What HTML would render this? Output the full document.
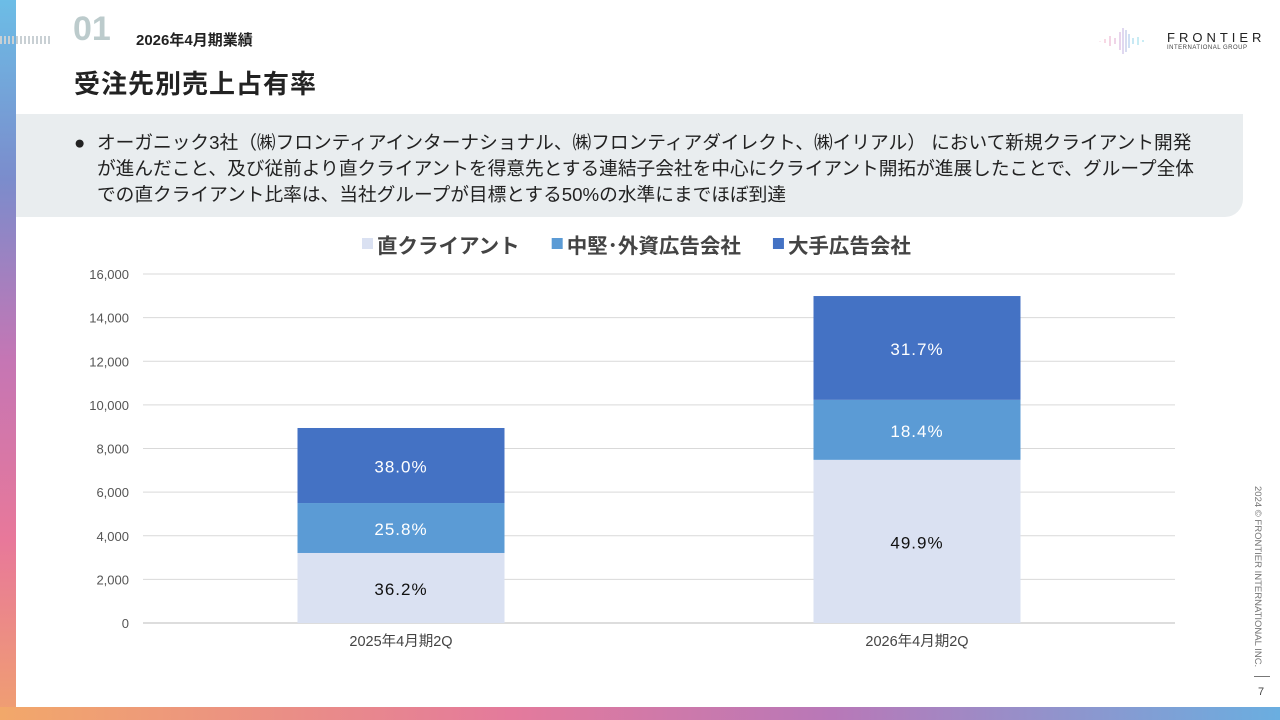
<!DOCTYPE html>
<html><head><meta charset="utf-8">
<style>
body{margin:0;width:1280px;height:720px;overflow:hidden;font-family:"Liberation Sans","Noto Sans CJK JP",sans-serif;background:#fff;position:relative}
.abs{position:absolute}
</style></head><body>
<div class="abs" style="left:0;top:0;width:16px;height:720px;background:linear-gradient(180deg,#6cbde6 0%,#7b8ccc 25%,#c576b4 50%,#e8789a 75%,#f0a070 100%)"></div>
<div class="abs" style="left:0;top:707px;width:1280px;height:13px;background:linear-gradient(90deg,#f2a86a 0%,#e47a9c 40%,#b878b8 65%,#6aaee0 100%)"></div>
<div class="abs" style="left:16px;top:0;width:1264px;height:707px;background:#fff;border-bottom-left-radius:22px"></div>
<div class="abs" style="left:0;top:36px;width:52px;height:8px;background:repeating-linear-gradient(90deg,#c9d0d4 0 2px,transparent 2px 4px)"></div>
<div class="abs" style="left:73px;top:10px;font-size:34px;font-weight:bold;color:#bccbcc">01</div>
<div class="abs" style="left:136px;top:29px;font-size:15px;font-weight:bold;color:#222">2026年4月期業績</div>
<div class="abs" style="left:74px;top:64px;font-size:26px;font-weight:bold;color:#222;letter-spacing:1px">受注先別売上占有率</div>
<div class="abs" style="left:1095px;top:26px;width:160px;height:30px">
<svg width="60" height="30" class="abs" style="left:0;top:0"><g stroke-width="1">
<line x1="5" y1="15" x2="5" y2="15.5" stroke="#f0b0c8"/><line x1="10" y1="13" x2="10" y2="17" stroke="#f0b0c8"/><line x1="15" y1="10" x2="15" y2="20" stroke="#e8a8c8"/><line x1="20" y1="12" x2="20" y2="18" stroke="#e0a8d0"/><line x1="25" y1="6" x2="25" y2="24" stroke="#d0a8d8"/><line x1="28" y1="2" x2="28" y2="28" stroke="#c0b0e0"/><line x1="31" y1="4" x2="31" y2="26" stroke="#b0b8e0"/><line x1="34" y1="8" x2="34" y2="22" stroke="#a0c0e8"/><line x1="38" y1="12" x2="38" y2="18" stroke="#90d0e8"/><line x1="43" y1="11" x2="43" y2="19" stroke="#90d8e8"/><line x1="48" y1="14" x2="48" y2="16" stroke="#90d8e8"/></g></svg>
<div class="abs" style="left:72px;top:4px;font-size:13px;letter-spacing:4px;color:#222">FRONTIER</div>
<div class="abs" style="left:72px;top:19px;font-size:6px;letter-spacing:0.5px;color:#444">INTERNATIONAL GROUP</div></div>
<div class="abs" style="left:16px;top:114px;width:1227px;height:103px;background:#e9edef;border-bottom-right-radius:18px"></div>
<div class="abs" style="left:74px;top:130px;width:1200px;font-size:18.7px;line-height:26px;color:#222;white-space:nowrap">
<span style="position:absolute;left:0">●</span><div style="padding-left:23px">オーガニック3社（㈱フロンティアインターナショナル、㈱フロンティアダイレクト、㈱イリアル） において新規クライアント開発<br>が進んだこと、及び従前より直クライアントを得意先とする連結子会社を中心にクライアント開拓が進展したことで、グループ全体<br>での直クライアント比率は、当社グループが目標とする50%の水準にまでほぼ到達</div></div>
<div class="abs" style="left:1263px;top:486px;transform-origin:0 0;transform:rotate(90deg);font-size:9.5px;color:#777;white-space:nowrap">2024 © FRONTIER INTERNATIONAL INC.</div>
<div class="abs" style="left:1254px;top:676px;width:16px;height:1px;background:#777"></div>
<div class="abs" style="left:1258px;top:686px;font-size:11px;color:#444">7</div>
<svg class="abs" style="left:0;top:0" width="1280" height="720" id="chart"></svg>
<script>
const categories=["2025年4月期2Q","2026年4月期2Q"];
const seriesNames=["直クライアント","中堅･外資広告会社","大手広告会社"];
const directVals=[3210,7480];
const midVals=[2290,2750];
const majorVals=[3440,4760];
const directPct=["36.2%","49.9%"];
const midPct=["25.8%","18.4%"];
const majorPct=["38.0%","31.7%"];
const yTicks=[0,2000,4000,6000,8000,10000,12000,14000,16000];
const colors=["#dae1f2","#5b9bd5","#4472c4"];
const svg=document.getElementById('chart');const NS="http://www.w3.org/2000/svg";
const x0=143,x1=1175,y0=623,y1=274,yMax=16000;
const y=v=>y0-(v/yMax)*(y0-y1);
const band=(x1-x0)/categories.length;
const xc=i=>x0+band*(i+0.5);
const bw=207;
function mk(t,a){const e=document.createElementNS(NS,t);for(const k in a)e.setAttribute(k,a[k]);svg.appendChild(e);return e;}
yTicks.forEach(v=>{const l=mk('line',{x1:x0,x2:x1,y1:y(v),y2:y(v),stroke:v===0?'#bbb':'#d9d9d9','stroke-width':1});


const t=mk('text',{x:129,y:y(v)+5,'text-anchor':'end','font-size':13,fill:'#555'});t.textContent=v.toLocaleString('en-US');

});
const series=[directVals,midVals,majorVals],pcts=[directPct,midPct,majorPct];
categories.forEach((c,i)=>{let base=0;
series.forEach((s,k)=>{const r=mk('rect',{x:xc(i)-bw/2,y:y(base+s[i]),width:bw,height:y(base)-y(base+s[i]),fill:colors[k]});


const t=mk('text',{x:xc(i),y:(y(base)+y(base+s[i]))/2+7,'text-anchor':'middle','font-size':17,'letter-spacing':1,fill:k===0?'#111':'#fff'});t.textContent=pcts[k][i];


base+=s[i];});
const t=mk('text',{x:xc(i),y:646,'text-anchor':'middle','font-size':14.5,fill:'#444'});t.textContent=c;

});
let lx=362;
seriesNames.forEach((n,k)=>{const r=mk('rect',{x:lx,y:238,width:11,height:11,fill:colors[k]});


const t=mk('text',{x:lx+15,y:253,'font-size':20.5,fill:'#444','font-weight':'bold'});t.textContent=n;


lx+=15+t.getComputedTextLength()+32;});
</script>
</body></html>
